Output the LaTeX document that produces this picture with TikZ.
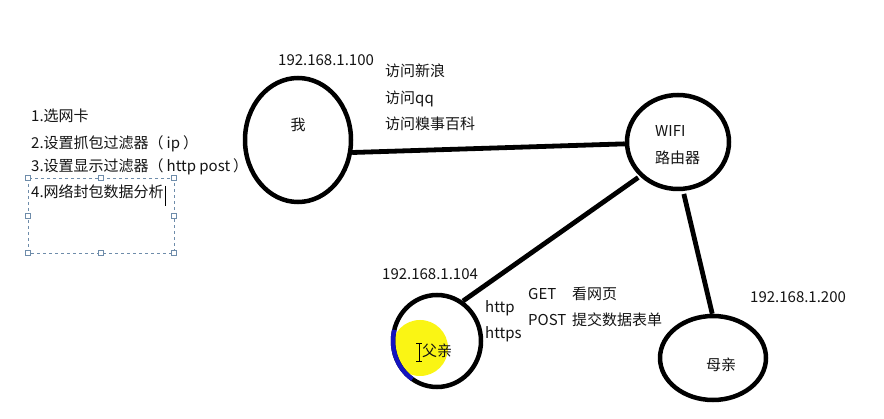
\documentclass[tikz,border=0pt]{standalone}
\usepackage{fontspec}
\setmainfont{Noto Sans CJK SC}
\usetikzlibrary{shapes.geometric}
\definecolor{txt}{RGB}{20,20,20}
\definecolor{selbox}{RGB}{110,140,170}
\definecolor{hilite}{RGB}{250,245,20}
\definecolor{blu}{RGB}{20,20,190}
\tikzset{
  lbl/.style={inner sep=0pt, anchor=west, text=txt, font=\fontsize{15}{18}\selectfont, text height=0.88em, text depth=0.12em},
  clbl/.style={lbl, anchor=center},
  dev/.style={ellipse, draw=black, line width=4.5pt, inner sep=0pt},
  conn/.style={line width=4.8pt, draw=black},
  handle/.style={draw=selbox, fill=white, line width=0.6pt, minimum size=4.5pt, inner sep=0pt, rectangle}
}
\begin{document}
\begin{tikzpicture}[x=1pt,y=1pt]
\useasboundingbox[fill=white] (0,0) rectangle (884,-419);
% highlight
\fill[hilite] (420,-348) circle[radius=28pt];
% devices
\node[dev, minimum width=106pt, minimum height=124pt] (me) at (298,-140) {};
\node[dev, minimum width=102pt, minimum height=94pt] (wifi) at (678,-142) {};
\node[dev, minimum width=88pt, minimum height=92pt] (father) at (437,-341) {};
\node[dev, minimum width=106pt, minimum height=84pt] (mother) at (713,-358) {};
\draw[blu, line width=4.5pt] (father.center) ++(166:44pt and 46pt) arc[start angle=166, end angle=236, x radius=44pt, y radius=46pt];
% connectors
\draw[conn] (me.-13) -- (wifi.182);
\draw[conn, shorten <=2pt] (wifi.222) -- (father.57);
\draw[conn, shorten <=3pt] (wifi.-84) -- (mother.91);
% labels
\node[clbl] (tme) at (298,-127) {我};
\node[lbl] (ipme) at (278,-62) {192.168.1.100};
\node[lbl] (v1) at (385,-73) {访问新浪};
\node[lbl] (v2) at (385,-100) {访问qq};
\node[lbl] (v3) at (385,-126) {访问糗事百科};
\node[lbl] (tw1) at (655,-133) {WIFI};
\node[lbl] (tw2) at (655,-160) {路由器};
\node[lbl] (ipf) at (382,-276) {192.168.1.104};
\node[lbl] (http) at (485,-309) {http};
\node[lbl] (https) at (485,-335) {https};
\node[lbl] (get) at (528,-296) {GET};
\node[lbl] (getd) at (572,-296) {看网页};
\node[lbl] (post) at (528,-322) {POST};
\node[lbl] (postd) at (572,-322) {提交数据表单};
\node[lbl] (tf) at (422,-353) {父亲};
\node[lbl] (ipm) at (750,-299) {192.168.1.200};
\node[lbl] (tm) at (706,-367) {母亲};
% I-beam cursor
\draw[black, line width=0.8pt] (419,-343) -- (419,-361) (416,-343) -- (422,-343) (416,-361) -- (422,-361);
% steps list
\node[lbl] (s1) at (31,-118) {1.选网卡};
\node[lbl] (s2) at (31,-145) {2.设置抓包过滤器（\hspace{0.2em}ip\hspace{0.2em}）};
\node[lbl] (s3) at (31,-168) {3.设置显示过滤器（\hspace{0.2em}http post\hspace{0.2em}）};
\node[lbl] (s4) at (31,-194) {4.网络封包数据分析};
\draw[black, line width=0.9pt] (s4.east) ++(2pt,8pt) -- ++(0,-20pt);
% selection box
\draw[selbox, dashed, line width=0.7pt] (28,-178) rectangle (174,-253);
\foreach \p in {(28,-178),(101,-178),(174,-178),(28,-216),(174,-216),(28,-253),(101,-253),(174,-253)}
  \node[handle] at \p {};
\end{tikzpicture}
\end{document}
